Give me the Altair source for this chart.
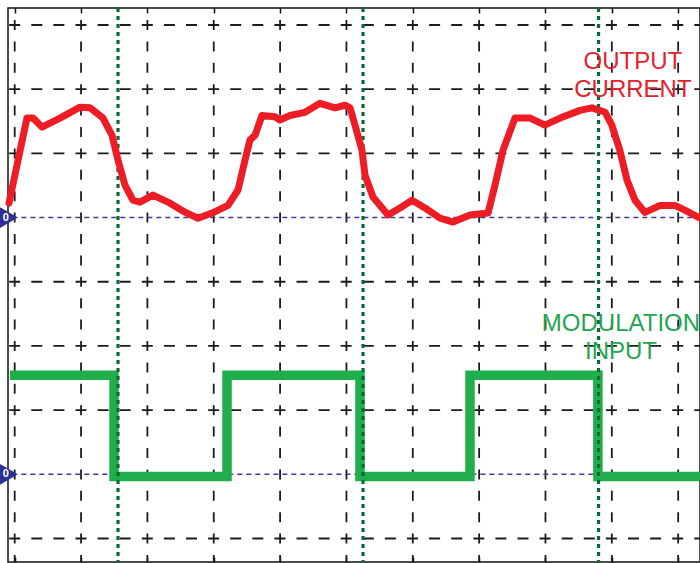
import altair as alt
import pandas as pd

# ---- graticule (divisions) ----
grid_t = list(range(0, 11))                 # vertical divisions
grid_v_black = [4, 3, 2, 0, -1, -2, -4]     # horizontal dashed divisions
tick_v = [4, 3, 2, 1, 0, -1, -2, -3, -4]    # left-edge ticks
zero_levels = [1, -3]                       # channel reference lines (CH1 red, CH2 green)
cursor_t = [1.557, 5.25, 8.80]              # green dotted cursors

# ---- output current (divisions above its reference) ----
red_t = [-0.086, 0.185, 0.276, 0.411, 0.683, 0.984, 1.135, 1.331, 1.467, 1.557,
         1.662, 1.783, 1.888, 2.084, 2.341, 2.567, 2.763, 2.974, 3.215, 3.366,
         3.471, 3.547, 3.622, 3.727, 3.923, 3.998, 4.149, 4.375, 4.601, 4.828,
         4.978, 5.054, 5.129, 5.234, 5.28, 5.4, 5.626, 5.807, 5.988, 6.184,
         6.41, 6.606, 6.862, 7.134, 7.239, 7.36, 7.54, 7.77, 7.99, 8.22,
         8.52, 8.70, 8.90, 9.00, 9.12, 9.23, 9.35, 9.50, 9.73, 9.95,
         10.10, 10.33]
red_r = [0.225, 1.55, 1.55, 1.41, 1.55, 1.72, 1.71, 1.55, 1.28, 0.895,
         0.505, 0.27, 0.24, 0.35, 0.225, 0.084, -0.01, 0.07, 0.19, 0.43,
         0.895, 1.21, 1.28, 1.59, 1.57, 1.52, 1.59, 1.64, 1.78, 1.71,
         1.75, 1.71, 1.44, 1.05, 0.66, 0.32, 0.04, 0.15, 0.27, 0.15,
         -0.01, -0.07, 0.04, 0.07, 0.505, 1.05, 1.55, 1.55, 1.44, 1.55,
         1.67, 1.71, 1.64, 1.44, 1.05, 0.58, 0.27, 0.08, 0.19, 0.19,
         0.115, -0.01]

# ---- modulation input (divisions above its reference) ----
green_t = [-0.071, 1.497, 1.497, 3.2, 3.2, 5.204, 5.204, 6.862, 6.862, 8.79, 8.79, 10.33]
green_g = [1.542, 1.542, -0.033, -0.033, 1.542, 1.542, -0.033, -0.033, 1.542, 1.542, -0.033, -0.033]

# ---- labels ----
label_text = ["OUTPUT", "CURRENT", "MODULATION", "INPUT"]
label_t = [9.318, 9.318, 9.138, 9.138]
label_v = [3.428, 2.986, -0.663, -1.092]
label_color = ["red", "red", "green", "green"]

T_MIN, T_MAX = -0.101, 10.329
V_MIN, V_MAX = -4.366, 4.265

X = alt.Scale(domain=[T_MIN, T_MAX], nice=False, zero=False)
Y = alt.Scale(domain=[V_MIN, V_MAX], nice=False, zero=False)
GRID = "#1c1c1c"

hgrid = alt.Chart(pd.DataFrame({"v": grid_v_black})).mark_rule(
    color=GRID, strokeWidth=1.8, strokeDash=[11, 11.1], strokeDashOffset=20.9
).encode(
    y=alt.Y("v:Q", scale=Y, axis=alt.Axis(orient="left", values=tick_v, tickSize=6,
                                          tickColor="#111", tickWidth=1.5, labels=False,
                                          domain=False, grid=False, title=None)),
    x=alt.XDatum(T_MIN, type="quantitative", scale=X, axis=None),
    x2=alt.X2Datum(T_MAX),
)

vgrid = alt.Chart(pd.DataFrame({"t": grid_t})).mark_rule(
    color=GRID, strokeWidth=1.8, strokeDash=[10, 11.4], strokeDashOffset=9.4
).encode(
    x=alt.X("t:Q", scale=X, axis=alt.Axis(orient="top", offset=-5, values=grid_t, tickSize=5,
                                          tickColor="#111", tickWidth=1.5, labels=False,
                                          domain=False, grid=False, title=None)),
    y=alt.YDatum(V_MAX, type="quantitative", scale=Y, axis=None),
    y2=alt.Y2Datum(V_MIN),
)

zero = alt.Chart(pd.DataFrame({"v": zero_levels})).mark_rule(
    color="#3a3d9a", strokeWidth=1.5, strokeDash=[5, 4]
).encode(
    y=alt.Y("v:Q", scale=Y, axis=None),
    x=alt.XDatum(0.1, type="quantitative", scale=X, axis=None),
    x2=alt.X2Datum(T_MAX),
)

green_df = pd.DataFrame({"t": green_t, "g": green_g, "i": range(len(green_t))})
green_df["v"] = green_df["g"] + zero_levels[1]
green = alt.Chart(green_df).mark_line(
    color="#1fae4b", strokeWidth=9.5, strokeJoin="miter", strokeCap="butt"
).encode(
    x=alt.X("t:Q", scale=X, axis=alt.Axis(orient="bottom", offset=-5, values=grid_t, tickSize=5,
                                          tickColor="#111", tickWidth=1.5, labels=False,
                                          domain=False, grid=False, title=None)),
    y=alt.Y("v:Q", scale=Y, axis=None),
    order="i:Q",
)

cursors = alt.Chart(pd.DataFrame({"t": cursor_t})).mark_rule(
    color="#0b6b34", strokeWidth=3.2, strokeDash=[4, 4]
).encode(
    x=alt.X("t:Q", scale=X, axis=None),
    y=alt.YDatum(V_MAX, type="quantitative", scale=Y, axis=None),
    y2=alt.Y2Datum(V_MIN),
)

red_df = pd.DataFrame({"t": red_t, "r": red_r, "i": range(len(red_t))})
red_df["v"] = red_df["r"] + zero_levels[0]
red = alt.Chart(red_df).mark_line(
    color="#ee1c25", strokeWidth=7, strokeJoin="round", strokeCap="round"
).encode(
    x=alt.X("t:Q", scale=X, axis=None),
    y=alt.Y("v:Q", scale=Y, axis=None),
    order="i:Q",
)

mk_df = pd.DataFrame({"v": zero_levels, "t": [-0.105, -0.105], "lab": ["0", "0"]})
markers = alt.Chart(mk_df).mark_point(
    shape="triangle-right", filled=True, color="#2e3192", size=560, opacity=1, clip=False
).encode(
    x=alt.X("t:Q", scale=X, axis=None),
    y=alt.Y("v:Q", scale=Y, axis=None),
)
marker_txt = alt.Chart(mk_df).mark_text(
    color="white", fontSize=11, fontWeight="bold", font="Liberation Sans", dx=-2, clip=False
).encode(
    x=alt.X("t:Q", scale=X, axis=None),
    y=alt.Y("v:Q", scale=Y, axis=None),
    text="lab:N",
)

lab_df = pd.DataFrame({"text": label_text, "t": label_t, "v": label_v, "c": label_color})
labels = alt.Chart(lab_df).mark_text(
    font="Liberation Sans", fontSize=24, align="center", baseline="middle"
).encode(
    x=alt.X("t:Q", scale=X, axis=None),
    y=alt.Y("v:Q", scale=Y, axis=None),
    text="text:N",
    color=alt.Color("c:N", scale=alt.Scale(domain=["red", "green"], range=["#e3222b", "#23a550"]),
                    legend=None),
)

chart = alt.layer(
    hgrid, vgrid, zero, green, cursors, red, markers, marker_txt, labels
).resolve_axis(x="independent").properties(
    width=692, height=554,
    padding={"left": 8, "top": 8, "right": 0, "bottom": 1},
    autosize=alt.AutoSizeParams(type="none"),
    background="white",
).configure_view(stroke="#111111", strokeWidth=1.5)

chart.save("out.html", embed_options={"renderer": "svg", "actions": False})
